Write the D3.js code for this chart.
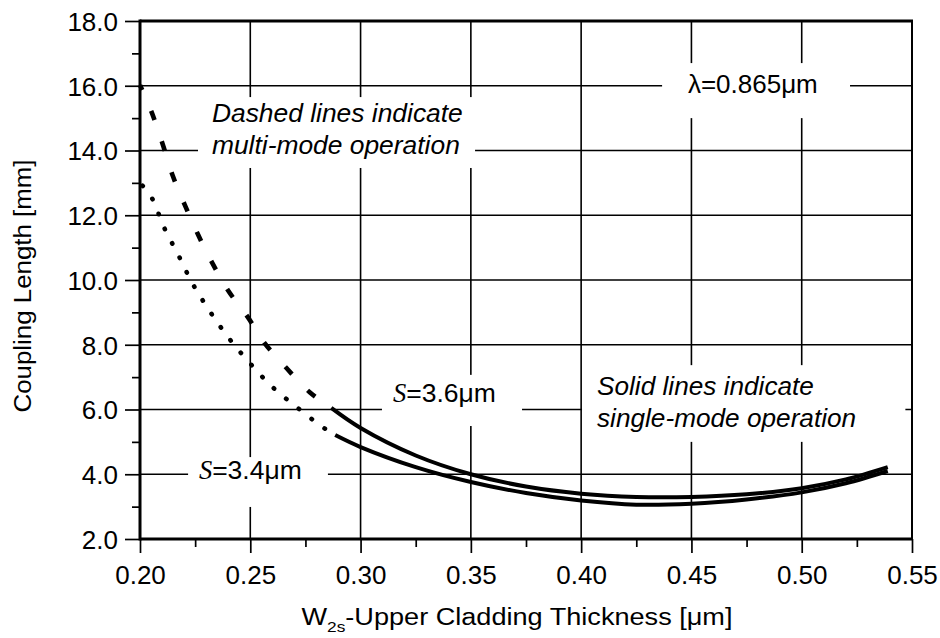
<!DOCTYPE html>
<html>
<head>
  <script src="https://d3js.org/d3.v7.min.js"></script>
  <style>
    body { margin: 0; background: #fff; }
    svg { font-family: "Liberation Sans", Arial, sans-serif; }
    .grid line { stroke: #000; stroke-width: 1.6; }
    .axis line { stroke: #000; stroke-width: 1.7; }
    .axis path { display: none; }
    .axis text { font-size: 26px; fill: #000; font-family: "Liberation Sans", Arial, sans-serif; }
  </style>
</head>
<body>
  <svg width="940" height="638"></svg>
  <script>
    const xTicks = [0.20, 0.25, 0.30, 0.35, 0.40, 0.45, 0.50, 0.55];
    const xMinor = [0.225, 0.275, 0.325, 0.375, 0.425, 0.475, 0.525];
    const yTicks = [2, 4, 6, 8, 10, 12, 14, 16, 18];
    const yMinor = [3, 5, 7, 9, 11, 13, 15, 17];

    // S = 3.6um, multi-mode part (dashed)
    const xMulti36 = [0.200, 0.2054, 0.2104, 0.2149, 0.2203, 0.2262, 0.2325, 0.2398, 0.2488, 0.2565, 0.2664, 0.2768, 0.2867];
    const yMulti36 = [16.02, 15.16, 14.17, 13.21, 12.32, 11.42, 10.56, 9.69, 8.86, 8.05, 7.28, 6.54, 6.05];
    // S = 3.4um, multi-mode part (dotted)
    const xMulti34 = [0.200, 0.2054, 0.2108, 0.2176, 0.2239, 0.2316, 0.2402, 0.2497, 0.2601, 0.2709, 0.2827, 0.2885];
    const yMulti34 = [13.00, 12.53, 11.64, 10.74, 9.88, 9.04, 8.21, 7.44, 6.69, 6.08, 5.46, 5.21];
    // single-mode parts (solid)
    const xSingle36 = [0.2867, 0.30, 0.325, 0.35, 0.375, 0.40, 0.425, 0.45, 0.475, 0.50, 0.52, 0.539];
    const ySingle36 = [6.05, 5.43, 4.58, 4.00, 3.62, 3.40, 3.30, 3.30, 3.38, 3.57, 3.84, 4.22];
    const xSingle34 = [0.2885, 0.30, 0.325, 0.35, 0.375, 0.40, 0.425, 0.45, 0.475, 0.50, 0.52, 0.539];
    const ySingle34 = [5.21, 4.84, 4.22, 3.76, 3.42, 3.19, 3.06, 3.09, 3.22, 3.44, 3.72, 4.10];

    const m = { left: 140, right: 912, top: 21, bottom: 539 };
    const svg = d3.select("svg");

    const x = d3.scaleLinear().domain([0.20, 0.55]).range([m.left, m.right]);
    const y = d3.scaleLinear().domain([2, 18]).range([m.bottom, m.top]);

    // grid
    const grid = svg.append("g").attr("class", "grid");
    grid.selectAll(".v").data(xTicks.slice(1, -1)).enter().append("line")
      .attr("x1", d => x(d)).attr("x2", d => x(d)).attr("y1", m.top).attr("y2", m.bottom);
    grid.selectAll(".h").data(yTicks.slice(1, -1)).enter().append("line")
      .attr("y1", d => y(d)).attr("y2", d => y(d)).attr("x1", m.left).attr("x2", m.right);

    // annotation boxes cut the grid (data units)
    const notes = [
      { lines: [["", "λ=0.865μm"]], x: 0.4484, y: [15.78], box: [0.4367, 0.5219, 16.70, 15.00], size: 26, italic: false },
      { lines: [["", "Dashed lines indicate"], ["", "multi-mode operation"]], x: 0.2326, y: [14.88, 13.89], box: [0.2263, 0.3519, 15.65, 13.46], size: 26.4, italic: true },
      { lines: [["S", "=3.6μm"]], x: 0.3147, y: [6.23], box: [0.3097, 0.3732, 7.07, 5.49], size: 26.5, italic: false },
      { lines: [["", "Solid lines indicate"], ["", "single-mode operation"]], x: 0.4072, y: [6.45, 5.46], box: [0.4004, 0.5470, 7.37, 5.00], size: 26.2, italic: true },
      { lines: [["S", "=3.4μm"]], x: 0.2267, y: [3.85], box: [0.2218, 0.2852, 4.53, 2.99], size: 26.5, italic: false }
    ];

    svg.append("g").selectAll("rect").data(notes).enter().append("rect")
      .attr("x", d => x(d.box[0])).attr("y", d => y(d.box[2]))
      .attr("width", d => x(d.box[1]) - x(d.box[0]))
      .attr("height", d => y(d.box[3]) - y(d.box[2]))
      .attr("fill", "#fff");

    // axes ticks
    const yAxis = svg.append("g").attr("class", "axis").attr("transform", `translate(${m.left},0)`)
      .call(d3.axisLeft(y).tickValues(yTicks).tickSize(15).tickPadding(7).tickFormat(d3.format(".1f")));
    yAxis.selectAll("text").attr("dy", "0.36em");
    svg.append("g").attr("class", "axis").attr("transform", `translate(${m.left},0)`)
      .call(d3.axisLeft(y).tickValues(yMinor).tickSize(8).tickFormat(""));
    svg.append("g").attr("class", "axis").attr("transform", `translate(0,${m.bottom})`)
      .call(d3.axisBottom(x).tickValues(xTicks).tickSize(14).tickPadding(13).tickFormat(d3.format(".2f")));
    svg.append("g").attr("class", "axis").attr("transform", `translate(0,${m.bottom})`)
      .call(d3.axisBottom(x).tickValues(xMinor).tickSize(8).tickFormat(""));

    // frame
    const frame = svg.append("g").attr("stroke", "#000").attr("fill", "none");
    frame.append("line").attr("x1", m.left).attr("x2", m.left).attr("y1", m.top - 1.5).attr("y2", m.bottom + 1.5).attr("stroke-width", 3);
    frame.append("line").attr("x1", m.left).attr("x2", m.right + 1).attr("y1", m.top).attr("y2", m.top).attr("stroke-width", 3);
    frame.append("line").attr("x1", m.left).attr("x2", m.right + 1).attr("y1", m.bottom).attr("y2", m.bottom).attr("stroke-width", 3);
    frame.append("line").attr("x1", m.right).attr("x2", m.right).attr("y1", m.top).attr("y2", m.bottom).attr("stroke-width", 2);

    // curves
    const line = d3.line().x(d => x(d[0])).y(d => y(d[1])).curve(d3.curveCatmullRom.alpha(0.5));
    const curves = svg.append("g").attr("fill", "none").attr("stroke", "#000");
    curves.append("path").attr("d", line(d3.zip(xMulti36, yMulti36)))
      .attr("stroke-width", 4.6).attr("stroke-dasharray", "10,22.4").attr("stroke-dashoffset", 4.5);
    curves.append("path").attr("d", line(d3.zip(xMulti34, yMulti34)))
      .attr("stroke-width", 4.6).attr("stroke-linecap", "round")
      .attr("stroke-dasharray", "0.5,15.7").attr("stroke-dashoffset", 12.2);
    curves.append("path").attr("d", line(d3.zip(xSingle36, ySingle36))).attr("stroke-width", 4);
    curves.append("path").attr("d", line(d3.zip(xSingle34, ySingle34))).attr("stroke-width", 4);

    // annotation texts
    notes.forEach(n => {
      n.lines.forEach((ln, i) => {
        const t = svg.append("text").attr("x", x(n.x)).attr("y", y(n.y[i]))
          .attr("font-size", n.size).attr("font-style", n.italic ? "italic" : "normal");
        if (ln[0]) t.append("tspan").attr("font-family", "'Liberation Serif', 'Times New Roman', serif")
          .attr("font-style", "italic").text(ln[0]);
        t.append("tspan").text(ln[1]);
      });
    });

    // axis titles
    const xt = svg.append("text").attr("x", 517).attr("y", 625).attr("text-anchor", "middle").attr("font-size", 23.5);
    xt.append("tspan").text("W");
    xt.append("tspan").attr("font-size", 15).attr("dy", 7).text("2s");
    xt.append("tspan").attr("dy", -7).text("-Upper Cladding Thickness [μm]");
    xt.attr("textLength", 431).attr("lengthAdjust", "spacingAndGlyphs");

    svg.append("text").attr("transform", "translate(31,286) rotate(-90)")
      .attr("text-anchor", "middle").attr("font-size", 23.5)
      .attr("textLength", 253).attr("lengthAdjust", "spacingAndGlyphs")
      .text("Coupling Length [mm]");
  </script>
</body>
</html>
